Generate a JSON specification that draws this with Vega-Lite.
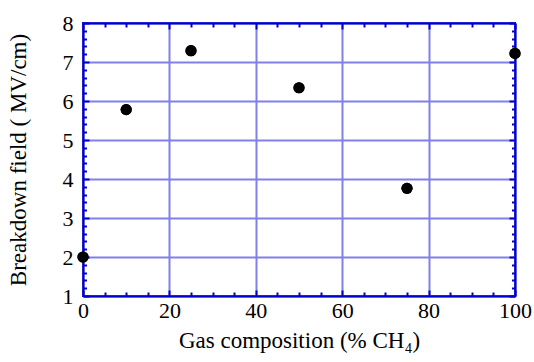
{
  "$schema": "https://vega.github.io/schema/vega-lite/v6.json",
  "autosize": {"type": "none"},
  "width": 432,
  "height": 273,
  "padding": {"left": 83, "top": 23, "right": 19, "bottom": 66},
  "background": "white",
  "config": {
    "view": {"stroke": "#0000cc", "strokeWidth": 2},
    "font": "Liberation Serif",
    "axis": {
      "labelFont": "Liberation Serif",
      "titleFont": "Liberation Serif",
      "labelFontSize": 22,
      "titleFontSize": 23,
      "titleFontWeight": "normal",
      "labelColor": "black",
      "titleColor": "black",
      "domainColor": "#0000cc",
      "domainWidth": 2,
      "tickColor": "#0000cc",
      "tickWidth": 2,
      "gridColor": "#8080e8",
      "gridWidth": 2,
      "labelFlush": false
    }
  },
  "data": {
    "values": [
      {"composition": 0, "field": 2.0},
      {"composition": 10, "field": 5.78},
      {"composition": 25, "field": 7.29},
      {"composition": 50, "field": 6.34},
      {"composition": 75, "field": 3.76},
      {"composition": 100, "field": 7.22}
    ]
  },
  "layer": [
    {
      "mark": {"type": "point", "filled": true, "color": "black", "opacity": 1, "size": 125, "clip": false},
      "encoding": {
        "x": {
          "field": "composition", "type": "quantitative",
          "scale": {"domain": [0, 100], "nice": false, "zero": false},
          "axis": {
            "orient": "bottom",
            "title": "Gas composition (% CH₄)",
            "titlePadding": 8,
            "values": [0,5,10,15,20,25,30,35,40,45,50,55,60,65,70,75,80,85,90,95,100],
            "format": "d",
            "labelExpr": "datum.value % 20 === 0 ? datum.label : ''",
            "labelPadding": 10,
            "tickSize": {"condition": {"test": "datum.value % 20 === 0", "value": -6}, "value": -4},
            "gridOpacity": {"condition": {"test": "datum.value % 20 === 0", "value": 1}, "value": 0}
          }
        },
        "y": {
          "field": "field", "type": "quantitative",
          "scale": {"domain": [1, 8], "nice": false, "zero": false},
          "axis": {
            "orient": "left",
            "title": "Breakdown field ( MV/cm)",
            "titlePadding": 32,
            "values": [1,1.2,1.4,1.6,1.8,2,2.2,2.4,2.6,2.8,3,3.2,3.4,3.6,3.8,4,4.2,4.4,4.6,4.8,5,5.2,5.4,5.6,5.8,6,6.2,6.4,6.6,6.8,7,7.2,7.4,7.6,7.8,8],
            "format": "~g",
            "labelExpr": "datum.value % 1 === 0 ? datum.label : ''",
            "labelPadding": 16,
            "tickSize": {"condition": {"test": "datum.value % 1 === 0", "value": -6}, "value": -3.5},
            "gridOpacity": {"condition": {"test": "datum.value % 1 === 0", "value": 1}, "value": 0}
          }
        }
      }
    },
    {
      "mark": {"type": "point", "filled": true, "color": "black", "opacity": 1, "size": 125, "clip": false},
      "encoding": {
        "x": {
          "field": "composition", "type": "quantitative",
          "axis": {
            "orient": "top",
            "title": null,
            "labels": false,
            "grid": false,
            "values": [0,5,10,15,20,25,30,35,40,45,50,55,60,65,70,75,80,85,90,95,100],
            "tickSize": {"condition": {"test": "datum.value % 20 === 0", "value": -6}, "value": -4}
          }
        },
        "y": {
          "field": "field", "type": "quantitative",
          "axis": {
            "orient": "right",
            "title": null,
            "labels": false,
            "grid": false,
            "values": [1,1.2,1.4,1.6,1.8,2,2.2,2.4,2.6,2.8,3,3.2,3.4,3.6,3.8,4,4.2,4.4,4.6,4.8,5,5.2,5.4,5.6,5.8,6,6.2,6.4,6.6,6.8,7,7.2,7.4,7.6,7.8,8],
            "tickSize": {"condition": {"test": "datum.value % 1 === 0", "value": -6}, "value": -3.5}
          }
        }
      }
    }
  ],
  "resolve": {"axis": {"x": "independent", "y": "independent"}}
}
